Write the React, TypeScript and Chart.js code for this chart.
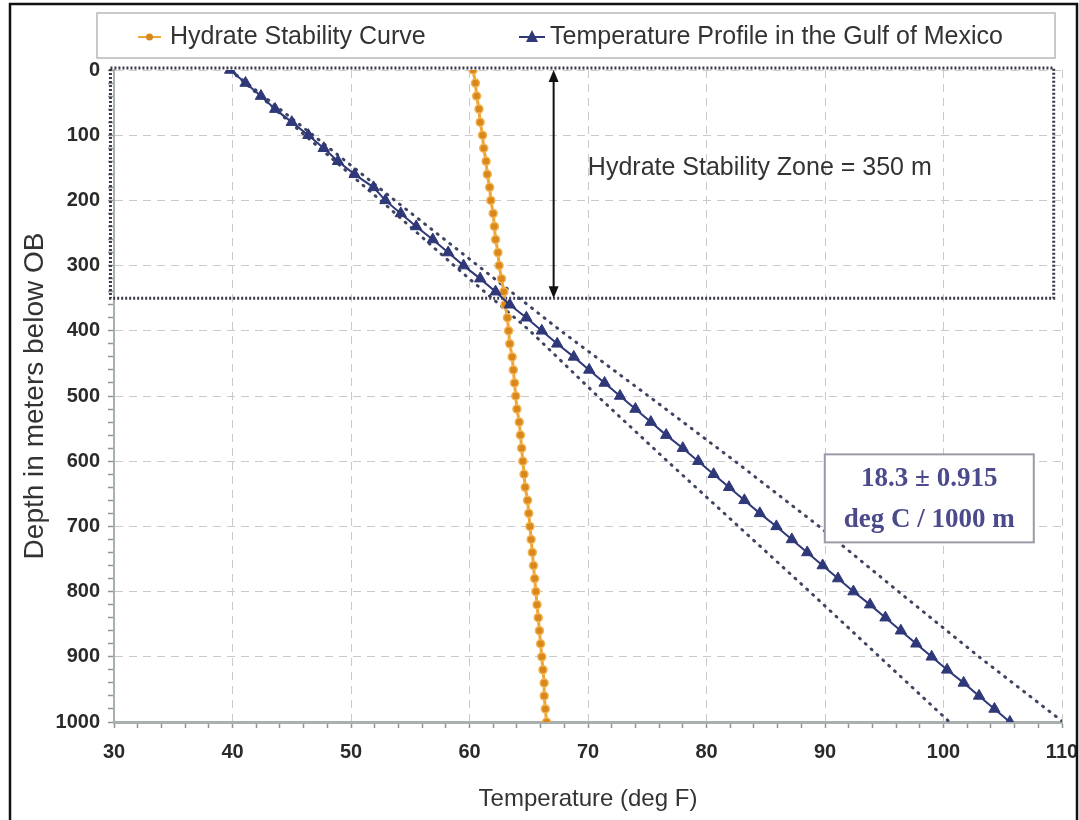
import React, { useEffect, useRef } from "react";
import { Chart, registerables } from "chart.js";

Chart.register(...registerables);

// ---------- data ----------
const profileDepths = [0, 20, 40, 60, 80, 100, 120, 140, 160, 180, 200, 220, 240, 260, 280, 300, 320, 340, 360, 380, 400, 420, 440, 460, 480, 500, 520, 540, 560, 580, 600, 620, 640, 660, 680, 700, 720, 740, 760, 780, 800, 820, 840, 860, 880, 900, 920, 940, 960, 980, 1000];
const profileTemps = [39.8, 41.1, 42.4, 43.6, 45.0, 46.4, 47.7, 48.9, 50.3, 51.9, 52.9, 54.2, 55.5, 56.9, 58.2, 59.5, 60.9, 62.2, 63.4, 64.8, 66.1, 67.4, 68.8, 70.1, 71.4, 72.7, 74.0, 75.3, 76.6, 78.0, 79.3, 80.6, 81.9, 83.2, 84.5, 85.9, 87.2, 88.5, 89.8, 91.1, 92.4, 93.8, 95.1, 96.4, 97.7, 99.0, 100.3, 101.7, 103.0, 104.3, 105.6];
const hydrateTemps = [60.3, 60.5, 60.6, 60.8, 60.9, 61.1, 61.2, 61.4, 61.5, 61.7, 61.8, 62.0, 62.1, 62.2, 62.4, 62.5, 62.7, 62.9, 63.0, 63.2, 63.3, 63.4, 63.6, 63.7, 63.8, 63.9, 64.0, 64.2, 64.3, 64.4, 64.5, 64.6, 64.7, 64.9, 65.0, 65.1, 65.2, 65.3, 65.4, 65.5, 65.6, 65.7, 65.8, 65.9, 66.0, 66.1, 66.2, 66.3, 66.3, 66.4, 66.5];
const envelopeDepths = [0, 100, 200, 300, 400, 500, 600, 700, 800, 900, 1000];
const upperTemps = [39.8, 46.8, 53.7, 60.7, 67.7, 75.1, 82.4, 89.5, 96.2, 103.0, 110.1];
const lowerTemps = [39.8, 46.1, 52.5, 58.7, 65.1, 70.8, 76.7, 82.7, 88.7, 94.6, 100.5];

const xMin = 30;
const xMax = 110;
const xMajorStep = 10;
const yMin = 0;
const yMax = 1000;
const yMajorStep = 100;

const seriesNames = ["Hydrate Stability Curve", "Temperature Profile in the Gulf of Mexico"];
const xTitle = "Temperature (deg F)";
const yTitle = "Depth in meters below OB";
const zoneLabel = "Hydrate Stability Zone = 350 m";
const zoneDepth = 350;
const zoneArrowTemp = 67.1;
const zoneLabelPos = [84.5, 150];
const gradientLines = ["18.3 \u00B1 0.915", "deg C / 1000 m"];
const gradientBoxPos = [98.8, 657];

// ---------- colours ----------
const NAVY = "#2f3878";
const ORANGE_LINE = "#efa638";
const ORANGE_DOT = "#d9861c";
const ENVELOPE = "#3f4560";
const SANS = "'Liberation Sans', Arial, sans-serif";
const SERIF = "'Liberation Serif', 'Times New Roman', serif";

const toPts = (xs: number[], ys: number[]) => xs.map((v, i) => ({ x: v, y: ys[i] }));

const annotationsBelow = {
  id: "annotationsBelow",
  beforeDatasetsDraw(chart: any) {
    const { ctx, scales } = chart;
    const x = scales.x;
    const y = scales.y;
    ctx.save();
    // dotted hydrate-zone box
    ctx.strokeStyle = "#3a3a4a";
    ctx.lineWidth = 3;
    ctx.setLineDash([2, 2]);
    const left = x.getPixelForValue(29.7);
    const right = x.getPixelForValue(109.3);
    const top = y.getPixelForValue(0) - 2;
    const bottom = y.getPixelForValue(zoneDepth);
    ctx.strokeRect(left, top, right - left, bottom - top);
    ctx.setLineDash([]);
    // double arrow
    const ax = x.getPixelForValue(zoneArrowTemp);
    const ay1 = y.getPixelForValue(0);
    const ay2 = y.getPixelForValue(zoneDepth);
    ctx.strokeStyle = "#111";
    ctx.fillStyle = "#111";
    ctx.lineWidth = 2;
    ctx.beginPath();
    ctx.moveTo(ax, ay1 + 8);
    ctx.lineTo(ax, ay2 - 8);
    ctx.stroke();
    ctx.beginPath();
    ctx.moveTo(ax, ay1);
    ctx.lineTo(ax - 5, ay1 + 12);
    ctx.lineTo(ax + 5, ay1 + 12);
    ctx.closePath();
    ctx.fill();
    ctx.beginPath();
    ctx.moveTo(ax, ay2);
    ctx.lineTo(ax - 5, ay2 - 12);
    ctx.lineTo(ax + 5, ay2 - 12);
    ctx.closePath();
    ctx.fill();
    // zone label
    ctx.fillStyle = "#333";
    ctx.font = `25px ${SANS}`;
    ctx.textAlign = "center";
    ctx.textBaseline = "middle";
    ctx.fillText(zoneLabel, x.getPixelForValue(zoneLabelPos[0]), y.getPixelForValue(zoneLabelPos[1]));
    ctx.restore();
  },
};

const annotationsAbove = {
  id: "annotationsAbove",
  afterDatasetsDraw(chart: any) {
    const { ctx, scales } = chart;
    const cx = scales.x.getPixelForValue(gradientBoxPos[0]);
    const cy = scales.y.getPixelForValue(gradientBoxPos[1]);
    const w = 209;
    const h = 88;
    ctx.save();
    ctx.fillStyle = "#ffffff";
    ctx.fillRect(cx - w / 2, cy - h / 2, w, h);
    ctx.strokeStyle = "#9a9aa8";
    ctx.lineWidth = 2;
    ctx.strokeRect(cx - w / 2, cy - h / 2, w, h);
    ctx.fillStyle = "#4a4a8c";
    ctx.font = `bold 27px ${SERIF}`;
    ctx.textAlign = "center";
    ctx.textBaseline = "middle";
    ctx.fillText(gradientLines[0], cx, cy - 19);
    ctx.fillText(gradientLines[1], cx, cy + 22);
    ctx.restore();
  },
};

const legendAndFrame = {
  id: "legendAndFrame",
  afterDraw(chart: any) {
    const { ctx } = chart;
    ctx.save();
    // legend box
    ctx.strokeStyle = "#b8b8b8";
    ctx.lineWidth = 1.5;
    ctx.strokeRect(97, 13, 958, 45);
    const ly = 37;
    // item 1
    ctx.strokeStyle = ORANGE_LINE;
    ctx.lineWidth = 2;
    ctx.beginPath();
    ctx.moveTo(138, ly);
    ctx.lineTo(161, ly);
    ctx.stroke();
    ctx.fillStyle = ORANGE_DOT;
    ctx.beginPath();
    ctx.arc(149.5, ly, 3.5, 0, Math.PI * 2);
    ctx.fill();
    ctx.fillStyle = "#333";
    ctx.font = `25px ${SANS}`;
    ctx.textAlign = "left";
    ctx.textBaseline = "middle";
    ctx.fillText(seriesNames[0], 170, ly);
    // item 2
    ctx.strokeStyle = NAVY;
    ctx.lineWidth = 2;
    ctx.beginPath();
    ctx.moveTo(519, ly);
    ctx.lineTo(545, ly);
    ctx.stroke();
    ctx.fillStyle = NAVY;
    ctx.beginPath();
    ctx.moveTo(532, ly - 7);
    ctx.lineTo(538, ly + 5);
    ctx.lineTo(526, ly + 5);
    ctx.closePath();
    ctx.fill();
    ctx.fillStyle = "#333";
    ctx.fillText(seriesNames[1], 550, ly);
    // outer frame
    ctx.strokeStyle = "#111";
    ctx.lineWidth = 2.5;
    ctx.beginPath();
    ctx.moveTo(10, 830);
    ctx.lineTo(10, 4);
    ctx.lineTo(1077, 4);
    ctx.lineTo(1077, 830);
    ctx.stroke();
    ctx.restore();
  },
};

export default function App() {
  const canvasRef = useRef<HTMLCanvasElement | null>(null);

  useEffect(() => {
    document.body.style.margin = "0";
    const canvas = canvasRef.current;
    if (!canvas) return;
    const chart = new Chart(canvas, {
      type: "scatter",
      data: {
        datasets: [
          {
            label: seriesNames[1],
            data: toPts(profileTemps, profileDepths),
            showLine: true,
            borderColor: NAVY,
            borderWidth: 2,
            backgroundColor: NAVY,
            pointStyle: "triangle",
            pointRadius: 6.5,
            pointBorderWidth: 1,
            pointBorderColor: NAVY,
          },
          {
            label: seriesNames[0],
            data: toPts(hydrateTemps, profileDepths),
            showLine: true,
            borderColor: ORANGE_LINE,
            borderWidth: 3,
            backgroundColor: ORANGE_DOT,
            pointStyle: "circle",
            pointRadius: 4,
            pointBorderWidth: 1.5,
            pointBorderColor: "#f2b450",
          },
          {
            label: "upper",
            data: toPts(upperTemps, envelopeDepths),
            showLine: true,
            borderColor: ENVELOPE,
            borderWidth: 3,
            borderDash: [1, 7],
            borderCapStyle: "round",
            pointRadius: 0,
          },
          {
            label: "lower",
            data: toPts(lowerTemps, envelopeDepths),
            showLine: true,
            borderColor: ENVELOPE,
            borderWidth: 3,
            borderDash: [1, 7],
            borderCapStyle: "round",
            pointRadius: 0,
          },
        ],
      },
      options: {
        animation: false,
        responsive: true,
        maintainAspectRatio: false,
        layout: { padding: { top: 70, right: 17, left: 0, bottom: 0 } },
        plugins: { legend: { display: false }, tooltip: { enabled: false } },
        scales: {
          x: {
            type: "linear",
            position: "bottom",
            min: xMin,
            max: xMax,
            afterFit: (s: any) => {
              s.height = 98;
              s.paddingLeft = 0;
              s.paddingRight = 0;
            },
            ticks: {
              stepSize: 2,
              autoSkip: false,
              maxRotation: 0,
              padding: 12,
              color: "#2a2a2a",
              font: { family: SANS, size: 20, weight: "bold" },
              callback: (v: any) => (Number(v) % xMajorStep === 0 ? String(v) : ""),
            },
            grid: {
              color: (c: any) => (c.tick && c.tick.value % xMajorStep === 0 ? "#cacaca" : "rgba(0,0,0,0)"),
              lineWidth: 1,
              tickColor: "#8f9696",
              tickLength: 6,
              tickWidth: 1.5,
            },
            border: { display: true, color: "#a8b0b0", width: 3, dash: [8, 6] },
            title: {
              display: true,
              text: xTitle,
              color: "#333",
              font: { family: SANS, size: 24 },
              padding: { top: 0, bottom: 6 },
            },
          },
          y: {
            type: "linear",
            reverse: true,
            min: yMin,
            max: yMax,
            afterFit: (s: any) => {
              s.width = 114;
              s.paddingTop = 0;
              s.paddingBottom = 0;
            },
            ticks: {
              stepSize: 20,
              autoSkip: false,
              padding: 8,
              color: "#2a2a2a",
              font: { family: SANS, size: 20, weight: "bold" },
              callback: (v: any) => (Number(v) % yMajorStep === 0 ? String(v) : ""),
            },
            grid: {
              color: (c: any) => (c.tick && c.tick.value % yMajorStep === 0 ? "#cacaca" : "rgba(0,0,0,0)"),
              lineWidth: 1,
              tickColor: "#8f9696",
              tickLength: 6,
              tickWidth: 1.5,
            },
            border: { display: true, color: "#a8b0b0", width: 2, dash: [8, 6] },
            title: {
              display: true,
              text: yTitle,
              color: "#333",
              font: { family: SANS, size: 28 },
              padding: { top: 18, bottom: 0 },
            },
          },
        },
      },
      plugins: [annotationsBelow, annotationsAbove, legendAndFrame],
    });
    return () => chart.destroy();
  }, []);

  return (
    <div style={{ position: "relative", width: 1079, height: 820, background: "#fff" }}>
      <canvas ref={canvasRef} />
    </div>
  );
}
